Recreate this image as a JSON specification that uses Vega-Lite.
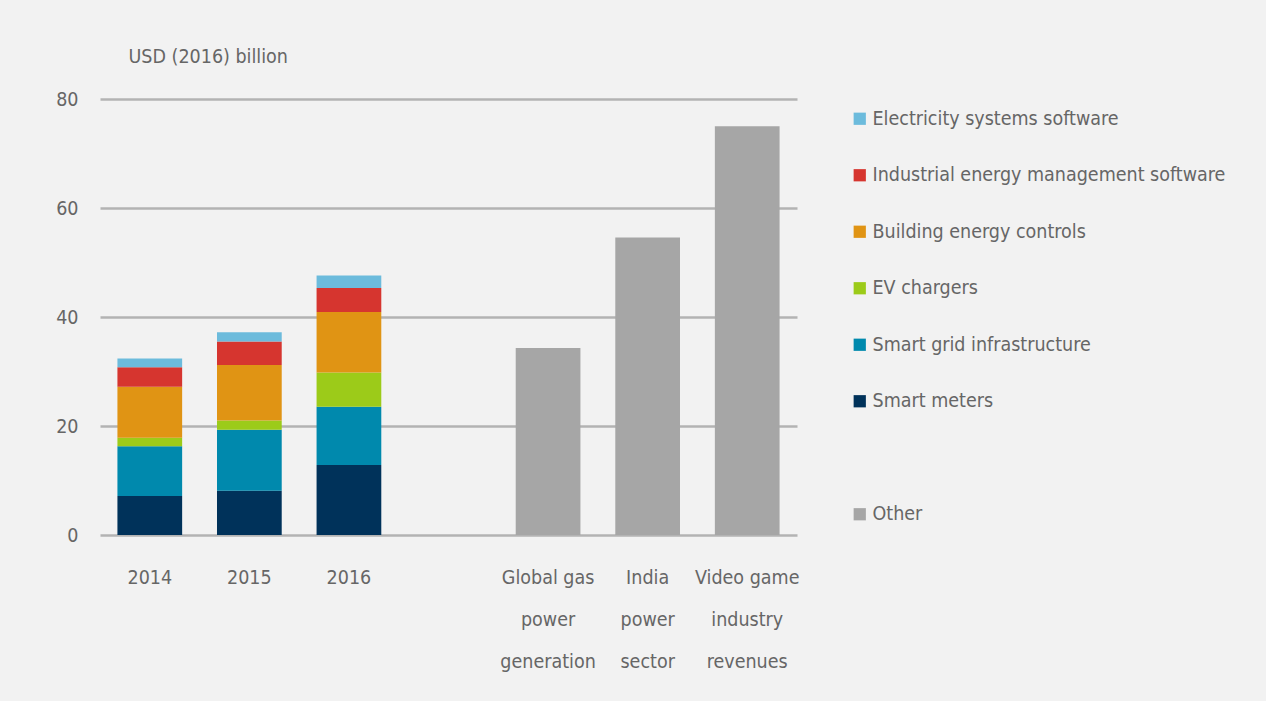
{
  "$schema": "https://vega.github.io/schema/vega-lite/v6.json",
  "autosize": "none",
  "width": 697,
  "height": 436,
  "padding": {"left": 100, "top": 99, "right": 469, "bottom": 166},
  "background": "#f2f2f2",
  "config": {
    "view": {"stroke": null},
    "font": "DejaVu Sans Condensed, Liberation Sans",
    "axis": {"labelFont": "DejaVu Sans Condensed, Liberation Sans", "titleFont": "DejaVu Sans Condensed, Liberation Sans", "labelColor": "#666666", "titleColor": "#666666"},
    "legend": {"labelFont": "DejaVu Sans Condensed, Liberation Sans"}
  },
  "data": {
    "values": [
      {"group": "2014", "series": "Smart meters", "value": 7.15},
      {"group": "2014", "series": "Smart grid infrastructure", "value": 9.15},
      {"group": "2014", "series": "EV chargers", "value": 1.55},
      {"group": "2014", "series": "Building energy controls", "value": 9.35},
      {"group": "2014", "series": "Industrial energy management software", "value": 3.6},
      {"group": "2014", "series": "Electricity systems software", "value": 1.6},
      {"group": "2015", "series": "Smart meters", "value": 8.1},
      {"group": "2015", "series": "Smart grid infrastructure", "value": 11.2},
      {"group": "2015", "series": "EV chargers", "value": 1.7},
      {"group": "2015", "series": "Building energy controls", "value": 10.2},
      {"group": "2015", "series": "Industrial energy management software", "value": 4.3},
      {"group": "2015", "series": "Electricity systems software", "value": 1.7},
      {"group": "2016", "series": "Smart meters", "value": 12.85},
      {"group": "2016", "series": "Smart grid infrastructure", "value": 10.7},
      {"group": "2016", "series": "EV chargers", "value": 6.25},
      {"group": "2016", "series": "Building energy controls", "value": 11.1},
      {"group": "2016", "series": "Industrial energy management software", "value": 4.4},
      {"group": "2016", "series": "Electricity systems software", "value": 2.3},
      {"group": "Global gas power generation", "series": "Other", "value": 34.3},
      {"group": "India power sector", "series": "Other", "value": 54.6},
      {"group": "Video game industry revenues", "series": "Other", "value": 75.0}
    ]
  },
  "transform": [
    {"calculate": "indexof(['Smart meters','Smart grid infrastructure','EV chargers','Building energy controls','Industrial energy management software','Electricity systems software','Other'], datum.series)", "as": "stackOrder"}
  ],
  "mark": {"type": "bar"},
  "encoding": {
    "x": {
      "field": "group",
      "type": "nominal",
      "scale": {
        "domain": ["2014", "2015", "2016", "gap", "Global gas power generation", "India power sector", "Video game industry revenues"],
        "paddingInner": 0.35,
        "paddingOuter": 0.175
      },
      "axis": {
        "title": null,
        "labelAngle": 0,
        "domain": false,
        "ticks": false,
        "labelFontSize": 19.5,
        "labelPadding": 42,
        "labelLineHeight": 42,
        "labelBaseline": "middle",
        "labelExpr": "datum.value == 'gap' ? '' : datum.value == 'Global gas power generation' ? ['Global gas', 'power', 'generation'] : datum.value == 'India power sector' ? ['India', 'power', 'sector'] : datum.value == 'Video game industry revenues' ? ['Video game', 'industry', 'revenues'] : datum.value"
      }
    },
    "y": {
      "field": "value",
      "type": "quantitative",
      "stack": "zero",
      "scale": {"domain": [0, 80]},
      "axis": {
        "values": [0, 20, 40, 60, 80],
        "title": "USD (2016) billion",
        "titleAngle": 0,
        "titleAlign": "left",
        "titleBaseline": "middle",
        "titleX": 28,
        "titleY": -43,
        "titleFontSize": 19.5,
        "titleFontWeight": "normal",
        "domain": false,
        "ticks": false,
        "labelFontSize": 19.5,
        "labelPadding": 22,
        "grid": true,
        "gridColor": "#b3b3b3",
        "gridWidth": 2.5
      }
    },
    "color": {
      "field": "series",
      "type": "nominal",
      "scale": {
        "domain": ["Electricity systems software", "Industrial energy management software", "Building energy controls", "EV chargers", "Smart grid infrastructure", "Smart meters", " ", "Other"],
        "range": ["#6cbbdc", "#d6352f", "#e09414", "#9ccb19", "#0089ad", "#00325a", "transparent", "#a6a6a6"]
      },
      "legend": {
        "title": null,
        "orient": "none",
        "legendX": 750,
        "legendY": 10,
        "symbolType": "square",
        "symbolSize": 150,
        "symbolStrokeWidth": 0,
        "labelFontSize": 19.5,
        "labelColor": "#666666",
        "labelLimit": 400,
        "labelOffset": 3,
        "rowPadding": 35.5,
        "padding": 0
      }
    },
    "order": {"field": "stackOrder", "type": "quantitative", "sort": "ascending"}
  }
}
